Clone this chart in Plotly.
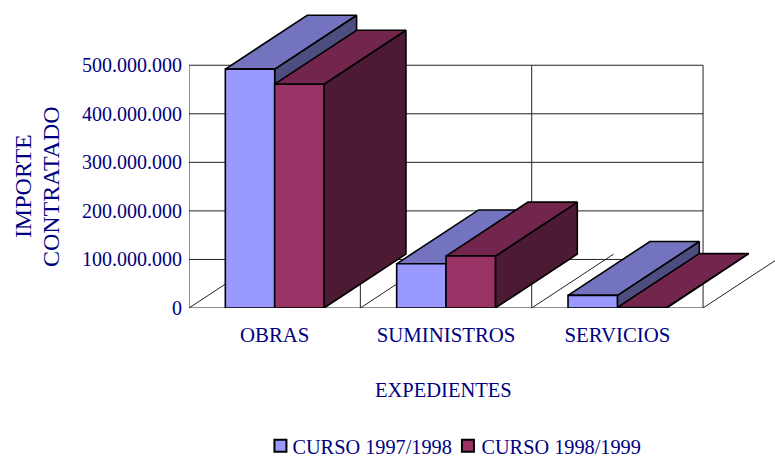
import plotly.graph_objects as go

categories = ["OBRAS", "SUMINISTROS", "SERVICIOS"]
series_names = ["CURSO 1997/1998", "CURSO 1998/1999"]
curso_1997 = [492e6, 91e6, 26e6]
curso_1998 = [461e6, 107e6, 1e6]
y_ticks = [0, 100e6, 200e6, 300e6, 400e6, 500e6]
y_tick_labels = ["0", "100.000.000", "200.000.000", "300.000.000", "400.000.000", "500.000.000"]

NAVY = "#000080"
FONT = "Liberation Serif"
BAR_W = 0.288
DEPTH_X = 0.478
DEPTH_Y = 111e6
W, H = 775, 457
L, R, T, B = 188.5, 703, 65.3, 308.3   # the front plane, in pixels
T_OUT = 5                              # the plot area grows to hold the bars' depth
Y_TOP = y_ticks[-1] * (B - T_OUT) / (B - T)
X_TOP = 3 * (W - L) / (R - L)
colors = [
    dict(front="#9999FF", top="#7373BF", side="#4D4D80"),
    dict(front="#993366", top="#73264D", side="#4D1A33"),
]


def face(xs, ys, color):
    return go.Scatter(x=xs + xs[:1], y=ys + ys[:1], mode="lines", fill="toself", fillcolor=color,
                      line=dict(color="#000000", width=1.6), hoverinfo="skip", showlegend=False)


fig = go.Figure()

# grid of the front plane and floor depth lines
gx, gy = [], []
for v in y_ticks:
    gx += [0, 3, None]
    gy += [v, v, None]
for i in range(len(categories) + 1):
    gx += [i, i, None, i, i + DEPTH_X, None]
    gy += [0, y_ticks[-1], None, 0, DEPTH_Y, None]
fig.add_trace(go.Scatter(x=gx, y=gy, mode="lines", line=dict(color="#222222", width=1),
                         hoverinfo="skip", showlegend=False))

for i in range(len(categories)):
    for s, values in enumerate([curso_1997, curso_1998]):
        x0 = i + 0.5 - BAR_W + s * BAR_W
        x1 = x0 + BAR_W
        v = values[i]
        c = colors[s]
        fig.add_trace(face([x1, x1 + DEPTH_X, x1 + DEPTH_X, x1], [0, DEPTH_Y, v + DEPTH_Y, v], c["side"]))
        fig.add_trace(face([x0, x1, x1 + DEPTH_X, x0 + DEPTH_X], [v, v, v + DEPTH_Y, v + DEPTH_Y], c["top"]))
        fig.add_trace(face([x0, x1, x1, x0], [0, 0, v, v], c["front"]))

for s, name in enumerate(series_names):
    fig.add_trace(go.Scatter(x=[None], y=[None], mode="markers", name=name,
                             marker=dict(symbol="square", size=10, color=colors[s]["front"],
                                         line=dict(color="#000000", width=1.5))))

fig.update_layout(
    width=W, height=H, autosize=False,
    paper_bgcolor="white", plot_bgcolor="white",
    font=dict(family=FONT, size=20, color=NAVY),
    margin=dict(l=L, r=0, t=T_OUT, b=H - B, pad=0, autoexpand=False),
    hovermode=False,
    xaxis=dict(range=[0, X_TOP], tickvals=[0.5, 1.5, 2.5], ticktext=categories, showgrid=False,
               zeroline=False, showline=False, ticks="", ticklabelstandoff=12,
               tickfont=dict(size=20.8, color=NAVY)),
    yaxis=dict(range=[0, Y_TOP], tickvals=y_ticks, ticktext=y_tick_labels, zeroline=False,
               showgrid=False, showline=False, ticks="", ticklabelstandoff=6,
               tickfont=dict(size=20, color=NAVY)),
    annotations=[
        dict(text="EXPEDIENTES", xref="x", x=1.485, yref="paper", y=0, yshift=-95,
             showarrow=False, font=dict(size=20.5, color=NAVY)),
        dict(text="IMPORTE", xref="paper", x=0, xshift=-181.5, yref="y", y=250e6,
             textangle=-90, showarrow=False, font=dict(size=24, color=NAVY)),
        dict(text="CONTRATADO", xref="paper", x=0, xshift=-153.5, yref="y", y=250e6,
             textangle=-90, showarrow=False, font=dict(size=24, color=NAVY)),
    ],
    legend=dict(orientation="h", x=260 / (W - L) - L / (W - L), xanchor="left",
                y=(B - 426.5) / (B - T_OUT), yanchor="top", font=dict(size=20.3, color=NAVY),
                itemsizing="constant", bgcolor="rgba(0,0,0,0)"),
)

post = """
document.body.style.margin='0';
document.body.style.overflow='hidden';
var items = document.querySelectorAll('.legend .traces');
if (items.length === 2) {
  var m = items[0].getAttribute('transform').match(/translate\\(([-\\d.]+)[ ,]+([-\\d.]+)\\)/);
  items[1].setAttribute('transform', 'translate(' + (parseFloat(m[1]) + 187.5) + ',' + m[2] + ')');
}
document.querySelectorAll('.legendtext').forEach(function(t, i){
  t.setAttribute('x', parseFloat(t.getAttribute('x')) - (i === 0 ? 8 : 6.5));
});
"""
fig.write_html("out.html", post_script=post, config=dict(displayModeBar=False))
